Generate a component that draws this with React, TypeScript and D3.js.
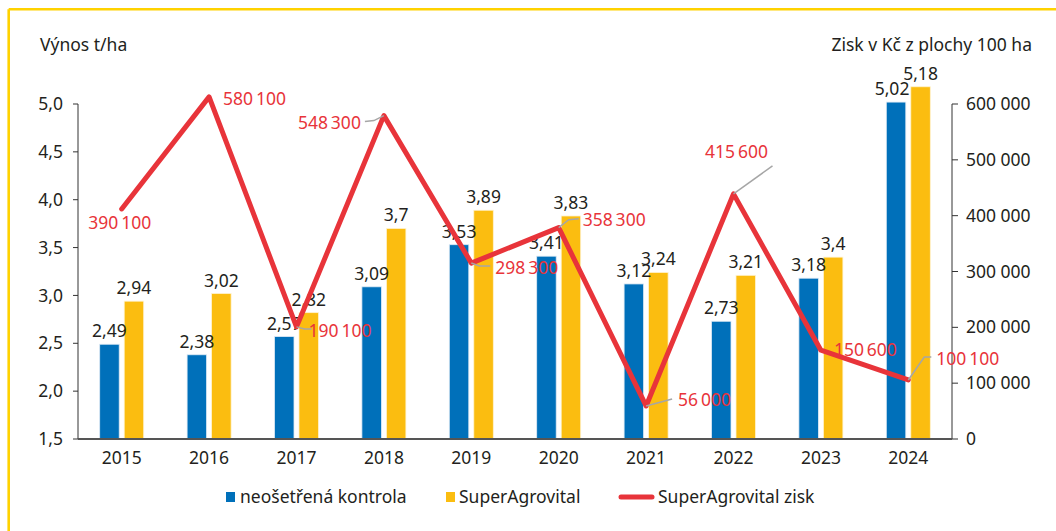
import React from "react";
import * as d3 from "d3";

const years = ["2015", "2016", "2017", "2018", "2019", "2020", "2021", "2022", "2023", "2024"];
const kontrola = [2.49, 2.38, 2.57, 3.09, 3.53, 3.41, 3.12, 2.73, 3.18, 5.02];
const superAgro = [2.94, 3.02, 2.82, 3.7, 3.89, 3.83, 3.24, 3.21, 3.4, 5.18];
const zisk = [390100, 580100, 190100, 548300, 298300, 358300, 56000, 415600, 150600, 100100];
const leftTicks = [1.5, 2.0, 2.5, 3.0, 3.5, 4.0, 4.5, 5.0];
const rightTicks = [0, 100000, 200000, 300000, 400000, 500000, 600000];

// label placement (offsets from the line point), and optional leader line path offsets
const ziskLabelPos: { dx: number; dy: number; anchor: string; leader?: [number, number][] }[] = [
  { dx: -2, dy: 14, anchor: "middle" },
  { dx: 14, dy: 2, anchor: "start" },
  { dx: 12, dy: 4, anchor: "start", leader: [[0, 0], [8, 2], [15, 2]] },
  { dx: -23, dy: 7, anchor: "end", leader: [[0, 0], [-10, 5], [-19, 6]] },
  { dx: 24, dy: 5, anchor: "start", leader: [[0, 0], [8, 3], [19, 3]] },
  { dx: 24, dy: -8, anchor: "start", leader: [[0, 0], [10, -8], [20, -9]] },
  { dx: 32, dy: -6, anchor: "start", leader: [[0, 0], [26, -7]] },
  { dx: 3, dy: -42, anchor: "middle", leader: [[0, 0], [39, -28]] },
  { dx: 13, dy: 0, anchor: "start" },
  { dx: 28, dy: -21, anchor: "start", leader: [[0, 0], [16, -23], [23, -23]] },
];

const W = 1056;
const H = 531;
const left = 78;
const right = 952;
const top = 104;
const bottom = 439;
const FONT = "'Noto Sans', sans-serif";
const FS = 17.5;
const TXT = "#231f20";
const BLUE = "#0070ba";
const YELLOW = "#fbbd10";
const RED = "#e8343a";

const fmtComma = (v: number) => String(v).replace(".", ",");
const fmtLeft = (v: number) => v.toFixed(1).replace(".", ",");
const fmtRight = (v: number) => d3.format(",")(v).replace(/,/g, " ");
const fmtZisk = (v: number) => d3.format(",")(v).replace(/,/g, "\u2009");

export default function App() {
  const x = d3.scaleBand<string>().domain(years).range([left, right]).paddingInner(0).paddingOuter(0);
  const yL = d3.scaleLinear().domain([1.5, 5.0]).range([bottom, top]);
  const yR = d3.scaleLinear().domain([0, 600000]).range([bottom, top]);
  const yLine = d3.scaleLinear().domain([0, 568000]).range([bottom, top]);
  const bw = 19.5;
  const gap = 5;
  const cx = (y: string) => (x(y) as number) + x.bandwidth() / 2;

  const lineGen = d3
    .line<number>()
    .x((_, i) => cx(years[i]))
    .y((d) => yLine(d));

  const pts = zisk.map((v, i) => [cx(years[i]), yLine(v)] as [number, number]);
  const leaderGen = d3.line<[number, number]>();

  return (
    <svg
      width={W}
      height={H}
      style={{ position: "absolute", left: 0, top: 0, background: "#fff" }}
      fontFamily={FONT}
    >
      <rect x={0} y={0} width={W} height={H} fill="#fff" />
      {/* yellow frame */}
      <line x1={8.7} y1={9.2} x2={W} y2={9.2} stroke="#ffd200" strokeWidth={2.6} />
      <line x1={8.7} y1={9.2} x2={8.7} y2={H} stroke="#ffd200" strokeWidth={2.6} />

      {/* axis titles */}
      <text x={40} y={51} fontSize={FS} fill={TXT}>Výnos t/ha</text>
      <text x={1032} y={51} fontSize={FS} fill={TXT} textAnchor="end">Zisk v Kč z plochy 100 ha</text>

      {/* bars */}
      {years.map((yr, i) => (
        <g key={yr}>
          <rect
            x={cx(yr) - gap / 2 - bw}
            y={yL(kontrola[i])}
            width={bw}
            height={bottom - yL(kontrola[i])}
            fill={BLUE}
            stroke="#dfeaf5"
            strokeWidth={0.8}
          />
          <rect
            x={cx(yr) + gap / 2}
            y={yL(superAgro[i])}
            width={bw}
            height={bottom - yL(superAgro[i])}
            fill={YELLOW}
            stroke="#fff3d0"
            strokeWidth={0.8}
          />
        </g>
      ))}

      {/* left axis */}
      <line x1={left} y1={top} x2={left} y2={bottom} stroke="#333" strokeWidth={1} />
      {leftTicks.map((t) => (
        <g key={t}>
          <line x1={left - 5} x2={left} y1={yL(t)} y2={yL(t)} stroke="#333" strokeWidth={1} />
          <text x={63} y={yL(t)} dy="0.35em" fontSize={FS} fill={TXT} textAnchor="end">
            {fmtLeft(t)}
          </text>
        </g>
      ))}
      {/* right axis */}
      <line x1={right} y1={top} x2={right} y2={bottom} stroke="#333" strokeWidth={1} />
      {rightTicks.map((t) => (
        <g key={t}>
          <line x1={right} x2={right + 6} y1={yR(t)} y2={yR(t)} stroke="#333" strokeWidth={1} />
          <text x={966} y={yR(t)} dy="0.35em" fontSize={FS} fill={TXT} textAnchor="start">
            {fmtRight(t)}
          </text>
        </g>
      ))}
      {/* bottom axis */}
      <line x1={left} y1={bottom} x2={right} y2={bottom} stroke="#555" strokeWidth={2} />
      {years.map((yr) => (
        <text key={yr} x={cx(yr)} y={464} fontSize={FS} fill={TXT} textAnchor="middle">
          {yr}
        </text>
      ))}

      {/* bar labels */}
      {years.map((yr, i) => (
        <g key={"l" + yr}>
          <text
            x={cx(yr) - gap / 2 - bw / 2 - (i === 9 ? 4 : 0)}
            y={yL(kontrola[i]) - 7}
            fontSize={FS}
            fill={TXT}
            textAnchor="middle"
          >
            {fmtComma(kontrola[i])}
          </text>
          <text
            x={cx(yr) + gap / 2 + bw / 2}
            y={yL(superAgro[i]) - 7}
            fontSize={FS}
            fill={TXT}
            textAnchor="middle"
          >
            {fmtComma(superAgro[i])}
          </text>
        </g>
      ))}

      {/* profit line */}
      <path d={lineGen(zisk) || ""} fill="none" stroke={RED} strokeWidth={5} strokeLinejoin="round" strokeLinecap="round" />

      {/* leaders and profit labels */}
      {zisk.map((v, i) => {
        const [px, py] = pts[i];
        const p = ziskLabelPos[i];
        return (
          <g key={"z" + i}>
            {p.leader && (
              <path
                d={leaderGen(p.leader.map(([a, b]) => [px + a, py + b] as [number, number])) || ""}
                fill="none"
                stroke="#a6a6a6"
                strokeWidth={1.5}
              />
            )}
            <text x={px + p.dx} y={py + p.dy} dy="0.35em" fontSize={FS} fill={RED} textAnchor={p.anchor}>
              {fmtZisk(v)}
            </text>
          </g>
        );
      })}

      {/* legend */}
      <rect x={226} y={492} width={9} height={10} fill={BLUE} />
      <text x={240} y={503} fontSize={FS} fill={TXT}>neošetřená kontrola</text>
      <rect x={446} y={492} width={9} height={10} fill={YELLOW} />
      <text x={459} y={503} fontSize={FS} fill={TXT}>SuperAgrovital</text>
      <line x1={621} x2={652} y1={497} y2={497} stroke={RED} strokeWidth={5} strokeLinecap="round" />
      <text x={658} y={503} fontSize={FS} fill={TXT}>SuperAgrovital zisk</text>
    </svg>
  );
}
